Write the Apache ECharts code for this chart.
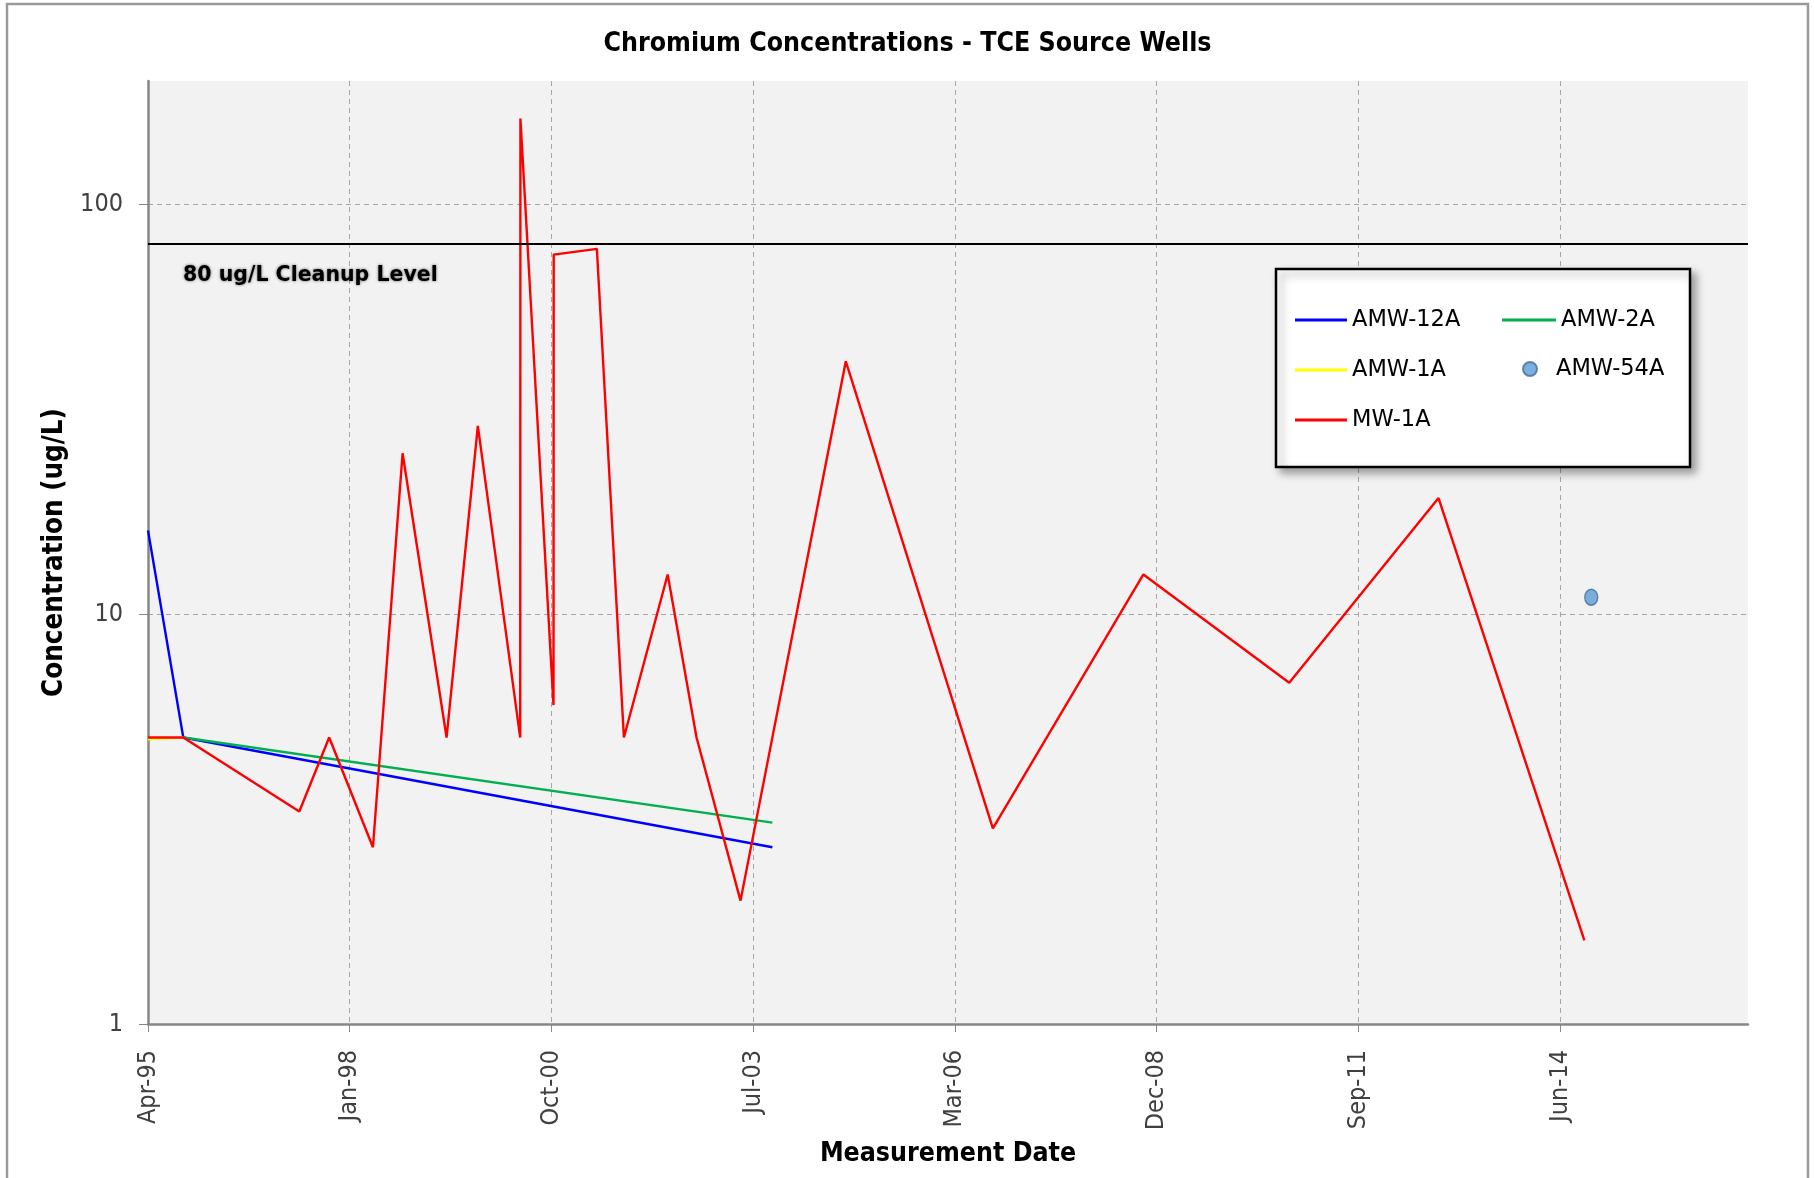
<!DOCTYPE html>
<html>
<head>
<meta charset="utf-8">
<title>Chromium Concentrations - TCE Source Wells</title>
<script src="https://cdn.jsdelivr.net/npm/echarts@6/dist/echarts.min.js"></script>
<style>
  html, body { margin: 0; padding: 0; background: #ffffff; }
  #chart { width: 1815px; height: 1178px; }
</style>
</head>
<body>
<div id="chart"></div>
<script>
// ---- Sampling data (dates are sample dates, values in ug/L) ----
const amw12aDates  = ['1995-04-15', '1995-10-07', '2003-10-05'];
const amw12aValues = [16, 5, 2.7];

const amw2aDates  = ['1995-10-07', '2003-10-05'];
const amw2aValues = [5, 3.1];

const amw1aDates  = ['1995-04-15', '1995-10-07'];
const amw1aValues = [4.95, 5];

const amw54aDates  = ['2014-11-15'];
const amw54aValues = [11];

const mw1aDates = [
  '1995-04-15', '1995-10-07', '1997-05-04', '1997-09-29', '1998-05-04',
  '1998-09-28', '1999-05-04', '1999-10-06', '2000-05-03', '2000-05-04',
  '2000-10-15', '2000-10-16', '2001-05-18', '2001-09-29', '2002-05-04',
  '2002-09-24', '2003-04-30', '2004-10-03', '2006-10-02', '2008-10-17',
  '2010-10-10', '2012-10-19', '2014-10-12'
];
const mw1aValues = [
  5, 5, 3.3, 5, 2.7,
  24.7, 5, 28.8, 5, 162,
  6, 75.4, 77.9, 5, 12.5,
  5, 2, 41.4, 3, 12.5,
  6.8, 19.2, 1.6
];

const cleanupLevel = 80;

// ---- Axis setup: date axis counted in days from the first sample, ticks every 1000 days ----
const axisStartDate = '1995-04-15';
const axisEndDate   = '2016-12-31';
const tickStepDays  = 1000;
const yTickValues   = [1, 10, 100];
const yMax          = 200;

const MS_DAY = 86400000;
function toUTC(s) { const p = s.split('-').map(Number); return Date.UTC(p[0], p[1] - 1, p[2]); }
const originUTC = toUTC(axisStartDate);
function dayOffset(s) { return Math.round((toUTC(s) - originUTC) / MS_DAY); }
const xMaxDays = dayOffset(axisEndDate);
const xTickValues = [];
for (let d = 0; d <= xMaxDays; d += tickStepDays) xTickValues.push(d);

const MONTHS = ['Jan','Feb','Mar','Apr','May','Jun','Jul','Aug','Sep','Oct','Nov','Dec'];
function dayLabel(d) {
  const dt = new Date(originUTC + d * MS_DAY);
  const yy = String(dt.getUTCFullYear() % 100).padStart(2, '0');
  return MONTHS[dt.getUTCMonth()] + '-' + yy;
}
function pairs(dates, values) { return dates.map((d, i) => [dayOffset(d), values[i]]); }

const condensed = "'DejaVu Sans Condensed', 'DejaVu Sans', sans-serif";
const regular = "'DejaVu Sans', Verdana, sans-serif";
const ellipsePath = 'path://M50,0 A50,50 0 1,1 50,100 A50,50 0 1,1 50,0 Z';

const chart = echarts.init(document.getElementById('chart'), null, { renderer: 'canvas' });

const legendText = { fontFamily: regular, fontSize: 22.5, color: '#000', lineHeight: 24 };

chart.setOption({
  backgroundColor: '#ffffff',
  animation: false,
  title: {
    text: 'Chromium Concentrations - TCE Source Wells',
    left: 'center',
    top: 31,
    padding: 0,
    textStyle: { fontFamily: condensed, fontWeight: 'bold', fontSize: 26.5, color: '#000' }
  },
  graphic: [
    {
      type: 'rect', z: 0, silent: true,
      shape: { x: 7, y: 4, width: 1801, height: 1210 },
      style: { fill: 'none', stroke: '#9a9a9a', lineWidth: 2.5 }
    },
    {
      type: 'rect', z: 3, silent: true,
      shape: { x: 1276, y: 269, width: 414, height: 198 },
      style: {
        fill: '#ffffff', stroke: '#000000', lineWidth: 2.5,
        shadowBlur: 8, shadowOffsetX: 5, shadowOffsetY: 5, shadowColor: 'rgba(0,0,0,0.35)'
      }
    }
  ],
  legend: [
    {
      z: 5, orient: 'vertical', left: 1295, top: 308, padding: 0,
      itemWidth: 52, itemHeight: 3, itemGap: 26, icon: 'rect',
      textStyle: legendText,
      data: ['AMW-12A', 'AMW-1A', 'MW-1A'],
      selectedMode: false
    },
    {
      z: 5, orient: 'vertical', left: 1502, top: 308, padding: 0,
      itemWidth: 54, itemHeight: 3, itemGap: 26, icon: 'rect',
      textStyle: legendText,
      data: ['AMW-2A'],
      selectedMode: false
    },
    {
      z: 5, orient: 'vertical', left: 1522, top: 357, padding: 0,
      itemWidth: 14, itemHeight: 16, icon: ellipsePath,
      textStyle: Object.assign({}, legendText, { padding: [0, 0, 0, 14] }),
      data: ['AMW-54A'],
      selectedMode: false
    }
  ],
  grid: {
    left: 148, right: 67, top: 81, bottom: 154,
    show: true, backgroundColor: '#f2f2f2', borderWidth: 0,
    containLabel: false
  },
  xAxis: {
    type: 'value',
    min: 0, max: xMaxDays, interval: tickStepDays,
    name: 'Measurement Date',
    nameLocation: 'middle', nameGap: 117,
    nameTextStyle: { fontFamily: condensed, fontWeight: 'bold', fontSize: 26.5, color: '#000' },
    axisLine: { show: true, lineStyle: { color: '#878787', width: 2.5 } },
    axisTick: { show: true, length: 8, lineStyle: { color: '#878787', width: 1 }, customValues: xTickValues },
    axisLabel: {
      rotate: 90, margin: 26, fontFamily: condensed, fontSize: 25, color: '#404040',
      customValues: xTickValues, formatter: v => dayLabel(v)
    },
    splitLine: { show: true, lineStyle: { color: '#a6a6a6', width: 1, type: [5, 4] } }
  },
  yAxis: {
    type: 'log', logBase: 10,
    min: 1, max: yMax,
    name: 'Concentration (ug/L)',
    nameLocation: 'middle', nameGap: 70, nameRotate: 90,
    nameTextStyle: { fontFamily: condensed, fontWeight: 'bold', fontSize: 27.5, color: '#000' },
    axisLine: { show: true, lineStyle: { color: '#878787', width: 2.5 } },
    axisTick: { show: true, length: 9, lineStyle: { color: '#878787', width: 1 }, customValues: yTickValues },
    axisLabel: {
      margin: 25, fontFamily: condensed, fontSize: 25, color: '#404040',
      customValues: yTickValues, formatter: v => String(v)
    },
    splitLine: { show: true, lineStyle: { color: '#a6a6a6', width: 1, type: [5, 4] } }
  },
  series: [
    {
      name: 'AMW-12A', type: 'line', symbol: 'none', color: '#0000ff',
      lineStyle: { width: 2.4, color: '#0000ff' },
      data: pairs(amw12aDates, amw12aValues), z: 2
    },
    {
      name: 'AMW-2A', type: 'line', symbol: 'none', color: '#00b050',
      lineStyle: { width: 2.4, color: '#00b050' },
      data: pairs(amw2aDates, amw2aValues), z: 2
    },
    {
      name: 'AMW-1A', type: 'line', symbol: 'none', color: '#ffff00',
      lineStyle: { width: 2.4, color: '#ffff00' },
      data: pairs(amw1aDates, amw1aValues), z: 2
    },
    {
      name: 'AMW-54A', type: 'scatter', symbol: ellipsePath, symbolSize: [13, 16],
      color: '#5b9bd5',
      itemStyle: { color: '#5b9bd5', borderColor: '#41719c', borderWidth: 1.5 },
      data: pairs(amw54aDates, amw54aValues), z: 3
    },
    {
      name: 'MW-1A', type: 'line', symbol: 'none', color: '#ff0000',
      lineStyle: { width: 2.4, color: '#ff0000' },
      data: pairs(mw1aDates, mw1aValues), z: 3,
      markLine: {
        silent: true,
        symbol: ['none', 'none'],
        lineStyle: { color: '#000000', width: 2, type: 'solid' },
        label: {
          show: true,
          position: 'insideStartBottom',
          distance: [35, 21],
          formatter: cleanupLevel + ' ug/L Cleanup Level',
          fontFamily: regular, fontWeight: 'bold', fontSize: 20.5, color: '#000',
          textShadowColor: 'rgba(0,0,0,0.6)', textShadowBlur: 3
        },
        data: [{ yAxis: cleanupLevel }]
      }
    }
  ]
});
</script>
</body>
</html>
